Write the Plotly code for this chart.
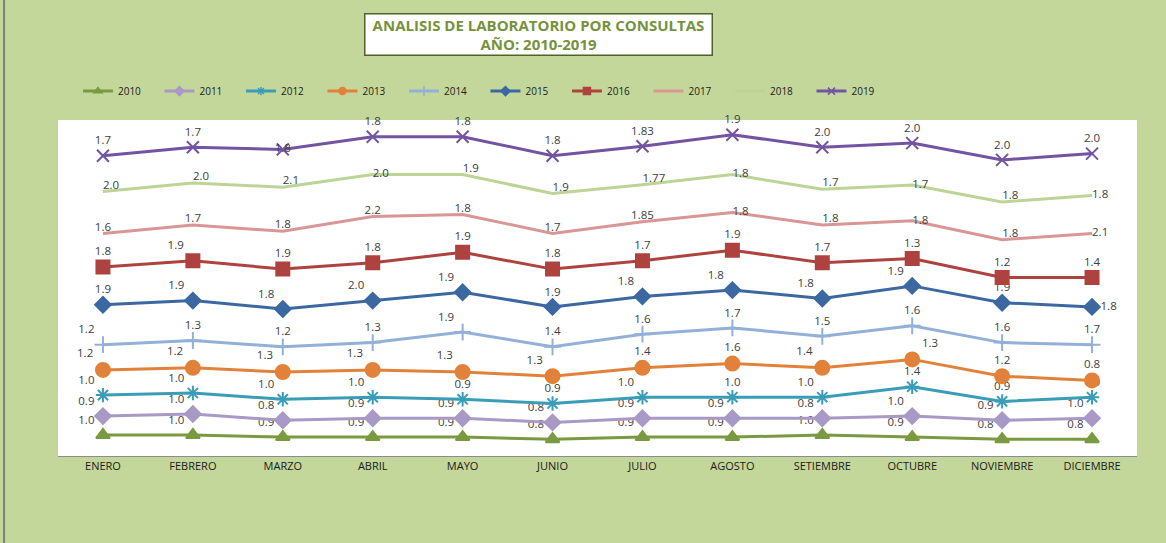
import plotly.graph_objects as go

# months (category axis)
meses = ["ENERO", "FEBRERO", "MARZO", "ABRIL", "MAYO", "JUNIO", "JULIO",
         "AGOSTO", "SETIEMBRE", "OCTUBRE", "NOVIEMBRE", "DICIEMBRE"]

# values per year (the chart is a stacked line chart)
v2010 = [1.0, 1.0, 0.9, 0.9, 0.9, 0.8, 0.9, 0.9, 1.0, 0.9, 0.8, 0.8]
v2011 = [0.9, 1.0, 0.8, 0.9, 0.9, 0.8, 0.9, 0.9, 0.8, 1.0, 0.9, 1.0]
v2012 = [1.0, 1.0, 1.0, 1.0, 0.9, 0.9, 1.0, 1.0, 1.0, 1.4, 0.9, 1.0]
v2013 = [1.2, 1.2, 1.3, 1.3, 1.3, 1.3, 1.4, 1.6, 1.4, 1.3, 1.2, 0.8]
v2014 = [1.2, 1.3, 1.2, 1.3, 1.9, 1.4, 1.6, 1.7, 1.5, 1.6, 1.6, 1.7]
v2015 = [1.9, 1.9, 1.8, 2.0, 1.9, 1.9, 1.8, 1.8, 1.8, 1.9, 1.9, 1.8]
v2016 = [1.8, 1.9, 1.9, 1.8, 1.9, 1.8, 1.7, 1.9, 1.7, 1.3, 1.2, 1.4]
v2017 = [1.6, 1.7, 1.8, 2.2, 1.8, 1.7, 1.85, 1.8, 1.8, 1.8, 1.8, 2.1]
v2018 = [2.0, 2.0, 2.1, 2.0, 1.9, 1.9, 1.77, 1.8, 1.7, 1.7, 1.8, 1.8]
v2019 = [1.7, 1.7, 1.8, 1.8, 1.8, 1.8, 1.83, 1.9, 2.0, 2.0, 2.0, 2.0]

years = ["2010", "2011", "2012", "2013", "2014", "2015", "2016", "2017", "2018", "2019"]
series = [v2010, v2011, v2012, v2013, v2014, v2015, v2016, v2017, v2018, v2019]

# style per year: color, marker symbol, marker size
styles = {
    "2010": ("#7A9A41", "triangle-up", 12),
    "2011": ("#A899C6", "diamond", 12),
    "2012": ("#3A9DB8", "asterisk-open", 12),
    "2013": ("#E2823A", "circle", 14),
    "2014": ("#92B0D8", "cross-thin-open", 12),
    "2015": ("#3C68A2", "diamond", 12),
    "2016": ("#AE423F", "square", 13),
    "2017": ("#D99694", None, 0),
    "2018": ("#BDD497", None, 0),
    "2019": ("#7254A2", "x-thin-open", 12),
}

# where each data label sits relative to its point
P = {"tc": "top center", "tl": "top left", "tr": "top right",
     "mr": "middle right", "mc": "middle center"}
label_pos = {
    "2010": ["tl"] * 12,
    "2011": ["tl"] * 12,
    "2012": ["tl", "tl", "tl", "tl", "tc", "tc", "tl", "tc", "tl", "tc", "tc", "tc"],
    "2013": ["tl", "tl", "tl", "tl", "tl", "tl", "tc", "tc", "tl", "tr", "tc", "tc"],
    "2014": ["tl", "tc", "tc", "tc", "tl", "tc", "tc", "tc", "tc", "tc", "tc", "tc"],
    "2015": ["tc", "tl", "tl", "tl", "tl", "tc", "tl", "tl", "tl", "tl", "tc", "mr"],
    "2016": ["tc", "tl", "tc", "tc", "tc", "tc", "tc", "tc", "tc", "tc", "tc", "tc"],
    "2017": ["tc", "tc", "tc", "tc", "tc", "tc", "tc", "mr", "tr", "mr", "tr", "mr"],
    "2018": ["tr", "tr", "tr", "mr", "tr", "tr", "tr", "mr", "tr", "mr", "tr", "mr"],
    "2019": ["tc", "tc", "mc", "tc", "tc", "tc", "tc", "tc", "tc", "tc", "tc", "tc"],
}


def fmt(v):
    s = f"{v:.2f}"
    return s if not s.endswith("0") else f"{v:.1f}"


fig = go.Figure()
for year, vals in zip(years, series):
    color, symbol, size = styles[year]
    fig.add_trace(go.Scatter(
        x=meses, y=vals, name=year, showlegend=False,
        stackgroup="one", fill="none",
        mode="lines+markers+text" if symbol else "lines+text",
        line=dict(color=color, width=3),
        marker=dict(symbol=symbol or "circle", size=size, color=color,
                    line=dict(color=color, width=2)),
        text=[fmt(v) for v in vals],
        textposition=[P[p] for p in label_pos[year]],
        textfont=dict(family="Open Sans", size=11.5, color="#404040"),
        cliponaxis=False,
    ))

# legend entries with the small Excel-style markers
for year in years:
    color, symbol, size = styles[year]
    fig.add_trace(go.Scatter(
        x=[None], y=[None], name=year,
        mode="lines+markers" if symbol else "lines",
        line=dict(color=color, width=3),
        marker=dict(symbol=symbol or "circle", size=7, color=color,
                    line=dict(color=color, width=1.5)),
    ))

# title box
fig.add_annotation(
    x=0.445, y=1.2545, xref="paper", yref="paper",
    xanchor="center", yanchor="middle",
    text="<b>ANALISIS DE LABORATORIO POR CONSULTAS<br>AÑO: 2010-2019</b>",
    showarrow=False, align="center",
    font=dict(family="Open Sans", size=15, color="#76923C"),
    bgcolor="white", bordercolor="#4F6228", borderwidth=1.5,
    width=344, height=38,
)

# outer frame line on the left
fig.add_shape(type="line", xref="paper", yref="paper",
              x0=-0.05, x1=-0.05, y0=-0.26, y1=1.36,
              line=dict(color="#7F7F7F", width=2))

fig.update_layout(
    width=1166, height=543,
    margin=dict(l=58, r=29, t=120, b=87, autoexpand=False),
    paper_bgcolor="#C4D79B",
    plot_bgcolor="white",
    showlegend=True,
    legend=dict(orientation="h", x=0.0185, y=1.086, xanchor="left", yanchor="middle",
                font=dict(family="Open Sans", size=10, color="#1A1A1A"),
                bgcolor="rgba(0,0,0,0)", entrywidth=36.5, traceorder="normal"),
    font=dict(family="Open Sans"),
)
fig.update_xaxes(showgrid=False, showline=True, linecolor="#8C8C8C", linewidth=1,
                 ticks="", range=[-0.5, 11.5],
                 tickfont=dict(family="Open Sans", size=11, color="#1A1A1A"))
fig.update_yaxes(range=[0, 16], showgrid=False, showticklabels=False,
                 zeroline=False, showline=False)

# drop the default page margin so the chart fills the window from the corner
fig.write_html("out.html", config={"displayModeBar": False},
               post_script="document.body.style.margin='0';")
